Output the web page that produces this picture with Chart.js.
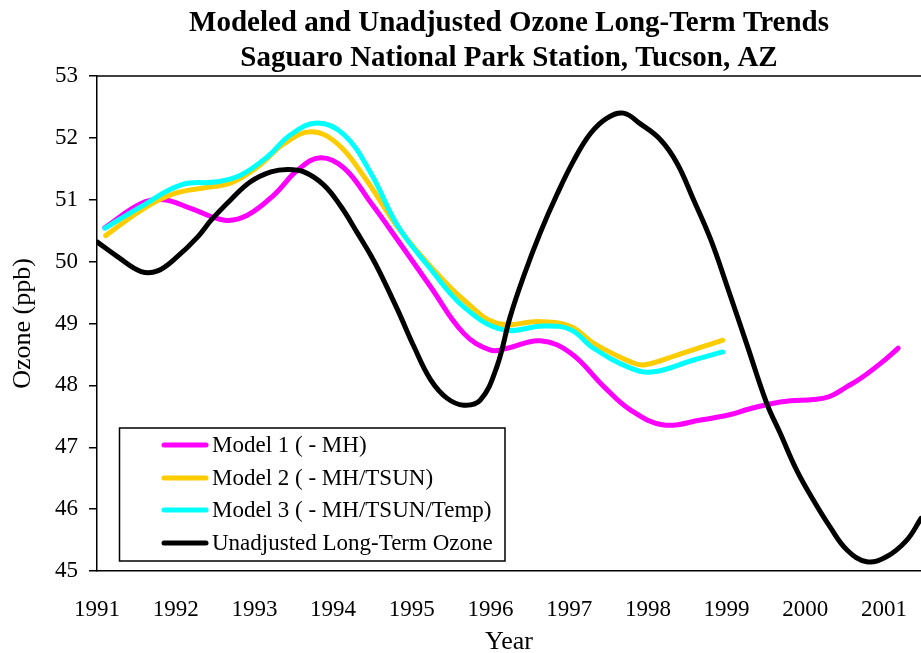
<!DOCTYPE html>
<html><head><meta charset="utf-8">
<script src="https://cdn.jsdelivr.net/npm/chart.js@4/dist/chart.umd.min.js"></script>
<style>html,body{margin:0;padding:0;background:#fff}#wrap{width:921px;height:653px}</style>
</head><body><div id="wrap"><canvas id="c" width="921" height="653"></canvas></div>
<script>
const titleLines = ['Modeled and Unadjusted Ozone Long-Term Trends', 'Saguaro National Park Station, Tucson, AZ'];
const xTickValues = [1991, 1992, 1993, 1994, 1995, 1996, 1997, 1998, 1999, 2000, 2001];
const yTickValues = [45, 46, 47, 48, 49, 50, 51, 52, 53];
const seriesLabels = ['Model 1 ( - MH)', 'Model 2 ( - MH/TSUN)', 'Model 3 ( - MH/TSUN/Temp)', 'Unadjusted Long-Term Ozone'];
const seriesColors = ['#FF00FF', '#FFCC00', '#00FFFF', '#000000'];

const model1Years = [1991.10, 1991.56, 1991.85, 1992.19, 1992.62, 1992.91, 1993.25, 1993.55, 1993.84, 1994.14, 1994.48, 1994.82, 1995.24, 1995.66, 1996.00, 1996.21, 1996.63, 1997.02, 1997.44, 1997.78, 1998.20, 1998.67, 1999.05, 1999.26, 1999.55, 1999.81, 2000.10, 2000.31, 2000.53, 2000.70, 2000.96, 2001.18];
const model1Values = [50.55, 50.94, 51.00, 50.86, 50.67, 50.75, 51.08, 51.48, 51.68, 51.51, 50.95, 50.35, 49.59, 48.84, 48.57, 48.60, 48.72, 48.52, 47.98, 47.60, 47.36, 47.44, 47.53, 47.61, 47.70, 47.75, 47.77, 47.82, 47.98, 48.11, 48.36, 48.60];

const model2Years = [1991.11, 1991.56, 1991.98, 1992.40, 1992.70, 1993.04, 1993.38, 1993.72, 1994.05, 1994.39, 1994.82, 1995.24, 1995.66, 1996.09, 1996.63, 1997.02, 1997.31, 1997.78, 1997.95, 1998.37, 1998.95];
const model2Values = [50.42, 50.83, 51.10, 51.20, 51.27, 51.53, 51.91, 52.10, 51.91, 51.38, 50.56, 49.92, 49.38, 49.00, 49.03, 48.95, 48.68, 48.38, 48.33, 48.49, 48.73];

const model3Years = [1991.10, 1991.56, 1992.07, 1992.53, 1992.83, 1993.17, 1993.46, 1993.80, 1994.14, 1994.48, 1994.82, 1995.24, 1995.66, 1996.16, 1996.67, 1997.02, 1997.31, 1997.78, 1998.07, 1998.58, 1998.95];
const model3Values = [50.54, 50.89, 51.24, 51.29, 51.40, 51.70, 52.05, 52.24, 52.05, 51.43, 50.58, 49.88, 49.27, 48.90, 48.96, 48.90, 48.60, 48.28, 48.22, 48.41, 48.54];

const unadjYears = [1991.00, 1991.26, 1991.56, 1991.77, 1992.02, 1992.28, 1992.45, 1992.70, 1992.95, 1993.21, 1993.42, 1993.63, 1993.88, 1994.10, 1994.31, 1994.48, 1994.60, 1994.82, 1995.03, 1995.24, 1995.45, 1995.66, 1995.87, 1996.08, 1996.25, 1996.42, 1996.63, 1996.85, 1997.06, 1997.27, 1997.48, 1997.69, 1997.90, 1998.16, 1998.37, 1998.58, 1998.80, 1999.02, 1999.26, 1999.51, 1999.68, 1999.89, 2000.10, 2000.31, 2000.53, 2000.78, 2001.03, 2001.29, 2001.47];
const unadjValues = [50.32, 50.08, 49.84, 49.85, 50.08, 50.40, 50.67, 51.00, 51.29, 51.45, 51.49, 51.45, 51.24, 50.89, 50.46, 50.10, 49.81, 49.22, 48.62, 48.09, 47.79, 47.68, 47.76, 48.30, 49.11, 49.76, 50.46, 51.10, 51.64, 52.07, 52.32, 52.40, 52.23, 51.97, 51.59, 51.00, 50.35, 49.55, 48.65, 47.71, 47.23, 46.63, 46.15, 45.72, 45.34, 45.15, 45.23, 45.50, 45.85];

const xMin = 1991, xMax = 2001.47, yMin = 45, yMax = 53;

function pts(xs, ys) { return xs.map((x, i) => ({ x: x, y: ys[i] })); }

const allYears = [model1Years, model2Years, model3Years, unadjYears];
const allValues = [model1Values, model2Values, model3Values, unadjValues];
const drawOrder = [4, 3, 2, 1];

const datasets = seriesLabels.map((lab, i) => ({
  label: lab,
  data: pts(allYears[i], allValues[i]),
  borderColor: seriesColors[i],
  backgroundColor: seriesColors[i],
  borderWidth: 5,
  borderCapStyle: 'round',
  borderJoinStyle: 'round',
  pointRadius: 0,
  tension: 0.4,
  fill: false,
  order: drawOrder[i]
}));

const serif = "'Liberation Serif', 'Times New Roman', serif";

const framePlugin = {
  id: 'frame',
  afterDraw(chart) {
    const ctx = chart.ctx, a = chart.chartArea;
    ctx.save();
    ctx.strokeStyle = '#000';
    ctx.lineWidth = 1.5;
    ctx.beginPath();
    ctx.moveTo(a.left, a.top);
    ctx.lineTo(a.right, a.top);
    ctx.stroke();
    // legend box
    const bx = 119.5, by = 428, bw = 385.5, bh = 133;
    ctx.fillStyle = '#fff';
    ctx.fillRect(bx, by, bw, bh);
    ctx.lineWidth = 1.5;
    ctx.strokeStyle = '#000';
    ctx.strokeRect(bx, by, bw, bh);
    ctx.font = '23px ' + serif;
    ctx.textBaseline = 'middle';
    ctx.textAlign = 'left';
    const rows = [445, 478, 510, 543];
    chart.data.datasets.forEach((ds, i) => {
      ctx.strokeStyle = ds.borderColor;
      ctx.lineWidth = 5;
      ctx.lineCap = 'round';
      ctx.beginPath();
      ctx.moveTo(164, rows[i]);
      ctx.lineTo(206, rows[i]);
      ctx.stroke();
      ctx.fillStyle = '#000';
      ctx.fillText(ds.label, 212, rows[i] + 1);
    });
    ctx.restore();
  }
};

new Chart(document.getElementById('c'), {
  type: 'line',
  data: { datasets: datasets },
  plugins: [framePlugin],
  options: {
    responsive: false,
    animation: false,
    devicePixelRatio: 1,
    layout: { padding: 0 },
    plugins: {
      legend: { display: false },
      tooltip: { enabled: false },
      title: {
        display: true,
        text: titleLines,
        color: '#000',
        fullSize: false,
        font: { family: serif, size: 29, weight: 'bold', lineHeight: 35 / 29 },
        padding: { top: 6, bottom: 0 }
      }
    },
    scales: {
      x: {
        type: 'linear',
        min: xMin, max: xMax,
        afterBuildTicks: s => { s.ticks = xTickValues.map(v => ({ value: v })); },
        afterFit: s => { s.height = 82; s.paddingRight = 0; s.paddingLeft = 0; },
        grid: { display: false, drawTicks: false },
        border: { display: true, color: '#000', width: 1.5 },
        ticks: { color: '#000', font: { family: serif, size: 23 }, padding: 25, maxRotation: 0, autoSkip: false, callback: v => String(v) },
        title: { display: true, text: 'Year', color: '#000', font: { family: serif, size: 26, lineHeight: 1 }, padding: { top: 0, bottom: -2 } }
      },
      y: {
        type: 'linear',
        min: yMin, max: yMax,
        afterBuildTicks: s => { s.ticks = yTickValues.map(v => ({ value: v })); },
        afterFit: s => { s.width = 97; },
        grid: { display: true, drawOnChartArea: false, drawTicks: true, tickLength: 8, color: '#000', lineWidth: 1.5 },
        border: { display: true, color: '#000', width: 1.5 },
        ticks: { color: '#000', font: { family: serif, size: 23 }, padding: 11, callback: v => String(v) },
        title: { display: true, text: 'Ozone (ppb)', color: '#000', font: { family: serif, size: 26 }, padding: { top: 8, bottom: 0 } }
      }
    }
  }
});
</script>
</body></html>
